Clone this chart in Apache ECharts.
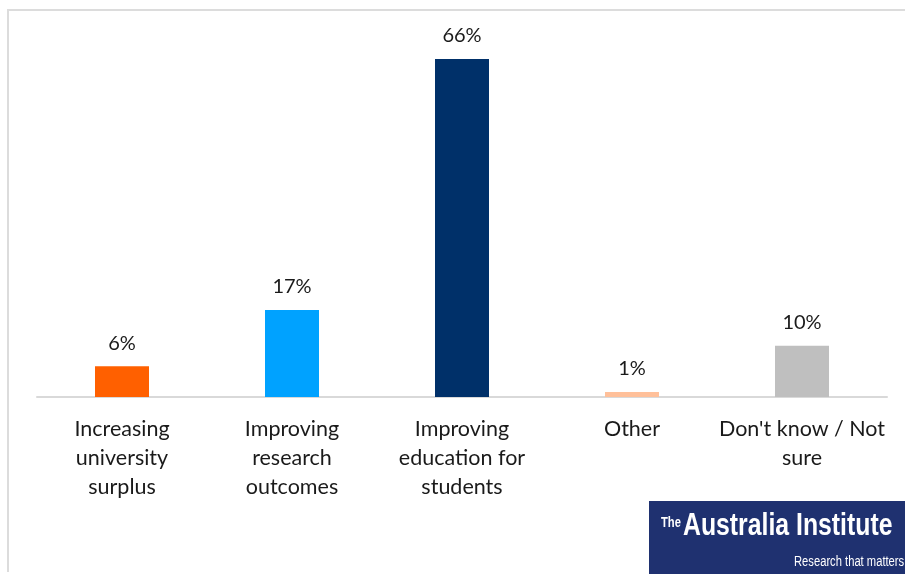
<!DOCTYPE html>
<html><head><meta charset="utf-8">
<style>html,body{margin:0;padding:0;background:#fff}#c{width:905px;height:574px}</style>
<script src="https://cdn.jsdelivr.net/npm/echarts@6/dist/echarts.min.js"></script>
</head><body><div id="c"></div>
<script>
var categories = ['Increasing\nuniversity\nsurplus', 'Improving\nresearch\noutcomes', 'Improving\neducation for\nstudents', 'Other', "Don't know / Not\nsure"];
var values = [6, 17, 66, 1, 10];
var colors = ['#FF6000', '#00A2FF', '#003069', '#FFC09A', '#BFBFBF'];

var chart = echarts.init(document.getElementById('c'), null, {renderer: 'canvas'});
chart.setOption({
  animation: false,
  grid: {left: 37, right: 18, top: 38.5, bottom: 177},
  xAxis: {
    type: 'category', data: categories,
    axisLine: {lineStyle: {color: '#D9D9D9', width: 2}},
    axisTick: {show: false},
    axisLabel: {color: '#1a1a1a', fontFamily: 'Lato', fontSize: 21.5, lineHeight: 29, margin: 18, interval: 0}
  },
  yAxis: {type: 'value', min: 0, max: 70, show: false, splitLine: {show: false}},
  series: [{
    type: 'bar', barWidth: 54,
    data: values.map(function (v, i) { return {value: v, itemStyle: {color: colors[i]}}; }),
    label: {show: true, position: 'top', distance: 13, formatter: '{c}%', color: '#1a1a1a', fontFamily: 'Lato', fontSize: 20}
  }],
  graphic: [
    {type: 'rect', shape: {x: 7, y: 9, width: 900, height: 2}, style: {fill: '#DCDCDC'}, silent: true},
    {type: 'rect', shape: {x: 7, y: 9, width: 2, height: 563}, style: {fill: '#DCDCDC'}, silent: true},
    {type: 'rect', shape: {x: 649, y: 501, width: 256, height: 73}, style: {fill: '#1F3170'}, silent: true},
    {type: 'text', x: 661, y: 516, scaleX: 0.8, style: {text: 'The', fill: '#fff', font: 'bold 14px "Liberation Sans"'}},
    {type: 'text', x: 683, y: 511, scaleX: 0.8, style: {text: 'Australia Institute', fill: '#fff', font: 'bold 31px "Liberation Sans"'}},
    {type: 'text', x: 794, y: 555, scaleX: 0.8, style: {text: 'Research that matters', fill: '#fff', font: '14px "Liberation Sans"'}}
  ]
});
</script></body></html>
